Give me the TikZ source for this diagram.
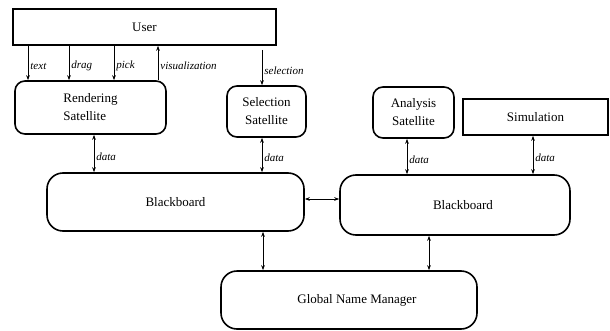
\documentclass[tikz,border=0pt]{standalone}
\usepackage{fontspec}
\setmainfont{Liberation Serif}
\usetikzlibrary{arrows.meta}
\tikzset{
  box/.style={draw, line width=0.056cm, inner sep=0pt, font=\fontsize{13}{18}\selectfont},
  sat/.style={box, rounded corners=10pt, align=center},
  board/.style={box, rounded corners=16pt},
  arr/.style={line width=0.03cm, -{Stealth[length=5pt,width=3.6pt]}},
  darr/.style={line width=0.03cm, {Stealth[length=5pt,width=3.6pt]}-{Stealth[length=5pt,width=3.6pt]}},
  lbl/.style={font=\fontsize{11}{13}\selectfont\itshape, inner sep=2pt, right, yshift=-3pt}
}
\begin{document}
\begin{tikzpicture}[x=1pt,y=-1pt]
                        \useasboundingbox (0,0) rectangle (610,331);

                        % Drawing the boxes
                        \node [box, minimum width=263pt, minimum height=36pt] (user) at (144.5,27) {User};
                        \node [sat, align=left, minimum width=151pt, minimum height=53pt] (rend) at (90.5,107.5) {Rendering\\Satellite};
                        \node [sat, minimum width=79pt, minimum height=51pt] (sel) at (266.5,111.5) {Selection\\Satellite};
                        \node [sat, minimum width=81pt, minimum height=51pt] (ana) at (413.5,112.5) {Analysis\\Satellite};
                        \node [box, minimum width=145pt, minimum height=36pt] (sim) at (535.5,117) {Simulation};
                        \node [board, minimum width=257pt, minimum height=58pt] (lbb) at (175.5,202) {Blackboard};
                        \node [board, minimum width=230pt, minimum height=60pt] (rbb) at (455,205) {\hspace{16pt}Blackboard};
                        \node [board, minimum width=256pt, minimum height=58pt] (gnm) at (349,300) {\hspace{16pt}Global Name Manager};

                        % Columns of the connectors
                        \coordinate (ctext) at (28,0);
                        \coordinate (cdrag) at (69,0);
                        \coordinate (cpick) at (114,0);
                        \coordinate (cvis) at (158,0);
                        \coordinate (selsrc) at (262,50);
                        \coordinate (crdat) at (94,0);
                        \coordinate (cadat) at (407,0);
                        \coordinate (csdat) at (533,0);
                        \coordinate (clgnm) at (263,0);
                        \coordinate (crgnm) at (429,0);
                        \coordinate (rowbb) at (0,199);

                        % Drawing User to Rendering Satellite
                        \draw [arr] (user.south -| ctext) -- (rend.north -| ctext) node [lbl, midway] {text};
                        \draw [arr] (user.south -| cdrag) -- (rend.north -| cdrag) node [lbl, midway] {drag};
                        \draw [arr] (user.south -| cpick) -- (rend.north -| cpick) node [lbl, midway] {pick};
                        \draw [arr] (rend.north -| cvis) -- (user.south -| cvis) node [lbl, midway] {visualization};

                        % Drawing User to Selection Satellite
                        \draw [arr] (selsrc) -- (sel.north -| selsrc) node [lbl, midway] {selection};

                        % Drawing data links
                        \draw [darr] (rend.south -| crdat) -- (lbb.north -| crdat) node [lbl, midway] {data};
                        \draw [darr] (sel.south -| selsrc) -- (lbb.north -| selsrc) node [lbl, midway] {data};
                        \draw [darr] (ana.south -| cadat) -- (rbb.north -| cadat) node [lbl, midway] {data};
                        \draw [darr] (sim.south -| csdat) -- (rbb.north -| csdat) node [lbl, midway] {data};

                        % Drawing Blackboard links
                        \draw [darr] (lbb.east |- rowbb) -- (rbb.west |- rowbb);
                        \draw [darr] (lbb.south -| clgnm) -- (gnm.north -| clgnm);
                        \draw [darr] (rbb.south -| crgnm) -- (gnm.north -| crgnm);
\end{tikzpicture}
\end{document}
